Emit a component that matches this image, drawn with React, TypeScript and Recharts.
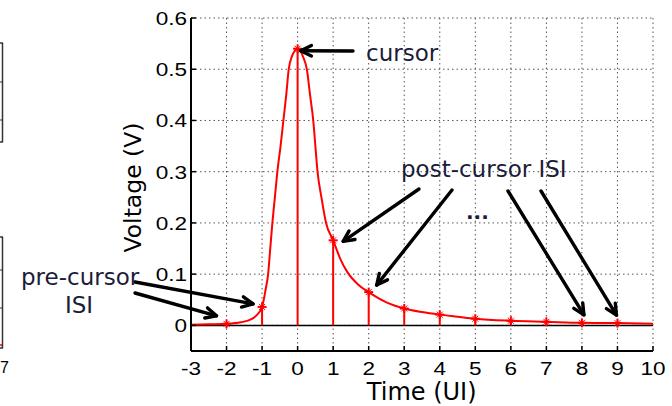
import React from 'react';
import {
  ComposedChart, Line, Scatter, XAxis, YAxis, CartesianGrid, ReferenceLine,
} from 'recharts';

// Pulse response curve (Time in UI, Voltage in V)
const curveT = [-3, -2.5, -2, -1.6, -1.3, -1.15, -1, -0.9, -0.83, -0.77, -0.71, -0.64, -0.57, -0.48, -0.4, -0.32, -0.25, -0.15, -0.07, 0, 0.07, 0.15, 0.26, 0.35, 0.44, 0.5, 0.56, 0.67, 0.8, 1, 1.2, 1.4, 1.7, 2, 2.5, 3, 3.5, 4, 4.5, 5, 6, 7, 8, 9, 10];
const curveV = [0.001, 0.002, 0.003, 0.006, 0.012, 0.02, 0.036, 0.07, 0.1, 0.15, 0.2, 0.25, 0.3, 0.35, 0.4, 0.45, 0.5, 0.527, 0.537, 0.54, 0.537, 0.525, 0.5, 0.45, 0.4, 0.35, 0.3, 0.25, 0.2, 0.166, 0.13, 0.104, 0.08, 0.065, 0.045, 0.033, 0.026, 0.021, 0.017, 0.013, 0.009, 0.007, 0.005, 0.0045, 0.003];

// Sampled (ISI) points at integer UI
const sampleT = [-2, -1, 0, 1, 2, 3, 4, 5, 6, 7, 8, 9];
const sampleV = [0.003, 0.036, 0.54, 0.166, 0.065, 0.033, 0.021, 0.013, 0.009, 0.007, 0.005, 0.0045];

const xTicks = [-3, -2, -1, 0, 1, 2, 3, 4, 5, 6, 7, 8, 9, 10];
const yTicks = [0, 0.1, 0.2, 0.3, 0.4, 0.5, 0.6];

const curveData = curveT.map((t, i) => ({ t, v: curveV[i] }));
const sampleData = sampleT.map((t, i) => ({ t, v: sampleV[i] }));

const W = 672;
const H = 406;
const PL = 191, PR = 653, PT = 18, PB = 351;
const X_MIN = -3, X_MAX = 10, Y_MIN = -0.05, Y_MAX = 0.6;
const xPx = (t: number) => PL + ((t - X_MIN) / (X_MAX - X_MIN)) * (PR - PL);
const yPx = (v: number) => PT + ((Y_MAX - v) / (Y_MAX - Y_MIN)) * (PB - PT);

const RED = '#ff0000';
const TXT = '#1c1c3a';
const FONT = '"DejaVu Sans", Verdana, sans-serif';
const TICK_FONT = '"Liberation Sans", Arial, sans-serif';

const Marker = (props: any) => {
  const { cx, cy } = props;
  if (cx == null || cy == null) return null;
  const s = 4.5;
  return (
    <g stroke={RED} strokeWidth={2}>
      <line x1={cx - s} y1={cy} x2={cx + s} y2={cy} />
      <line x1={cx} y1={cy - s} x2={cx} y2={cy + s} />
      <line x1={cx - 3} y1={cy - 3} x2={cx + 3} y2={cy + 3} strokeWidth={1} />
      <line x1={cx - 3} y1={cy + 3} x2={cx + 3} y2={cy - 3} strokeWidth={1} />
    </g>
  );
};

type Arrow = { from: [number, number]; t: number; v: number; dx: number; dy: number };
const arrows: Arrow[] = [
  { from: [353, 51], t: 0, v: 0.54, dx: 3, dy: 2 },
  { from: [419, 189], t: 1, v: 0.166, dx: 10, dy: 1 },
  { from: [452, 190], t: 2, v: 0.065, dx: 8, dy: -7 },
  { from: [508, 191], t: 8, v: 0.005, dx: 2, dy: -8 },
  { from: [541, 191], t: 9, v: 0.0045, dx: -1, dy: -8 },
  { from: [135, 282], t: -1, v: 0.036, dx: -9, dy: -3 },
  { from: [135, 293], t: -2, v: 0.003, dx: -10, dy: -8 },
];

const ArrowShape = ({ a }: { a: Arrow }) => {
  const [x1, y1] = a.from;
  const x2 = xPx(a.t) + a.dx;
  const y2 = yPx(a.v) + a.dy;
  const ang = Math.atan2(y2 - y1, x2 - x1);
  const L = 12;
  const spread = 0.45;
  const h1x = x2 - L * Math.cos(ang - spread);
  const h1y = y2 - L * Math.sin(ang - spread);
  const h2x = x2 - L * Math.cos(ang + spread);
  const h2y = y2 - L * Math.sin(ang + spread);
  return (
    <g stroke="#000" strokeWidth={3.4} fill="none" strokeLinecap="round" strokeLinejoin="round">
      <line x1={x1} y1={y1} x2={x2} y2={y2} />
      <polyline points={`${h1x},${h1y} ${x2},${y2} ${h2x},${h2y}`} />
    </g>
  );
};

const fmtY = (v: number) => (v === 0 ? '0' : v.toFixed(1));

const XTick = (props: any) => {
  const { x, y, payload } = props;
  return (
    <g transform={`translate(${x},${y}) scale(1.22,1)`}>
      <text x={0} y={13} textAnchor="middle" fontSize={18.5} fontFamily={TICK_FONT} fill="#000">
        {String(payload.value)}
      </text>
    </g>
  );
};

const YTick = (props: any) => {
  const { x, y, payload } = props;
  return (
    <g transform={`translate(${x},${y}) scale(1.22,1)`}>
      <text x={0} y={7} textAnchor="end" fontSize={18.5} fontFamily={TICK_FONT} fill="#000">
        {fmtY(payload.value)}
      </text>
    </g>
  );
};

export default function App() {
  return (
    <div style={{ position: 'absolute', left: 0, top: 0, width: W, height: H, background: '#fff' }}>
      <ComposedChart
        width={W}
        height={H}
        margin={{ top: PT, right: W - PR, bottom: H - PB - 30, left: PL - 50 }}
      >
        <CartesianGrid stroke="#555" strokeDasharray="1.5 3" strokeWidth={1} />
        <XAxis
          type="number"
          dataKey="t"
          domain={[X_MIN, X_MAX]}
          ticks={xTicks}
          allowDataOverflow
          height={30}
          tickSize={-5}
          tickMargin={16}
          axisLine={{ stroke: '#000', strokeWidth: 2 }}
          tickLine={{ stroke: '#000', strokeWidth: 1.5 }}
          tick={<XTick />}
          interval={0}
        />
        <XAxis
          xAxisId="top"
          orientation="top"
          type="number"
          domain={[X_MIN, X_MAX]}
          ticks={xTicks}
          allowDataOverflow
          height={0}
          tickSize={-5}
          axisLine={{ stroke: '#000', strokeWidth: 2 }}
          tickLine={{ stroke: '#000', strokeWidth: 1.5 }}
          tickFormatter={() => ''}
          interval={0}
        />
        <YAxis
          type="number"
          domain={[Y_MIN, Y_MAX]}
          ticks={yTicks}
          allowDataOverflow
          width={50}
          tickSize={-5}
          tickMargin={9}
          axisLine={{ stroke: '#000', strokeWidth: 2 }}
          tickLine={{ stroke: '#000', strokeWidth: 1.5 }}
          tick={<YTick />}
          interval={0}
        />
        <YAxis
          yAxisId="right"
          orientation="right"
          type="number"
          domain={[Y_MIN, Y_MAX]}
          ticks={yTicks}
          allowDataOverflow
          width={0}
          tickSize={-5}
          axisLine={{ stroke: '#000', strokeWidth: 2 }}
          tickLine={{ stroke: '#000', strokeWidth: 1.5 }}
          tickFormatter={() => ''}
          interval={0}
        />
        <ReferenceLine y={0} stroke="#000" strokeWidth={1.5} />
        {sampleData.map((d) => (
          <ReferenceLine
            key={d.t}
            segment={[{ x: d.t, y: 0 }, { x: d.t, y: d.v }]}
            stroke={RED}
            strokeWidth={2}
          />
        ))}
        <Line
          data={curveData}
          dataKey="v"
          type="monotone"
          stroke={RED}
          strokeWidth={2}
          dot={false}
          isAnimationActive={false}
        />
        <Scatter
          data={sampleData}
          dataKey="v"
          shape={<Marker />}
          isAnimationActive={false}
        />
      </ComposedChart>
      <svg
        width={W}
        height={H}
        style={{ position: 'absolute', left: 0, top: 0, pointerEvents: 'none' }}
      >
        {/* fragments of neighbouring figure at left edge */}
        <g stroke="#333" strokeWidth={1.5} fill="none">
          <line x1={2.5} y1={43} x2={2.5} y2={142} />
          <line x1={0} y1={43} x2={3} y2={43} />
          <line x1={0} y1={142} x2={3} y2={142} />
          <line x1={0} y1={82} x2={3} y2={82} strokeWidth={1} />
          <line x1={0} y1={120} x2={3} y2={120} strokeWidth={1} />
          <line x1={2.5} y1={237} x2={2.5} y2={348} />
          <line x1={0} y1={237} x2={3} y2={237} />
          <line x1={0} y1={348} x2={3} y2={348} />
          <line x1={0} y1={270} x2={3} y2={270} strokeWidth={1} />
          <line x1={0} y1={308} x2={3} y2={308} strokeWidth={1} />
        </g>
        <line x1={0} y1={345} x2={2} y2={345} stroke={RED} strokeWidth={1.5} />
        <text x={0} y={373} fontSize={16} fontFamily={TICK_FONT} fill="#000">7</text>

        {/* axis titles */}
        <text
          x={141}
          y={187.5}
          transform="rotate(-90 141 187.5)"
          textAnchor="middle"
          fontSize={23.5}
          fontFamily={FONT}
          fill="#000"
        >
          Voltage (V)
        </text>
        <text x={421.7} y={400} textAnchor="middle" fontSize={24} fontFamily={FONT} fill="#000">
          Time (UI)
        </text>

        {/* annotations */}
        {arrows.map((a, i) => (
          <ArrowShape key={i} a={a} />
        ))}
        <text x={366} y={60.5} fontSize={23} fontFamily={FONT} fill={TXT}>cursor</text>
        <text x={401} y={177} fontSize={23} fontFamily={FONT} fill={TXT}>post-cursor ISI</text>
        <text x={466} y={219} fontSize={20} fontWeight="bold" fontFamily={FONT} fill={TXT}>...</text>
        <text x={21} y={285} fontSize={23} fontFamily={FONT} fill={TXT}>pre-cursor</text>
        <text x={79} y={313} textAnchor="middle" fontSize={23} fontFamily={FONT} fill={TXT}>ISI</text>
      </svg>
    </div>
  );
}
